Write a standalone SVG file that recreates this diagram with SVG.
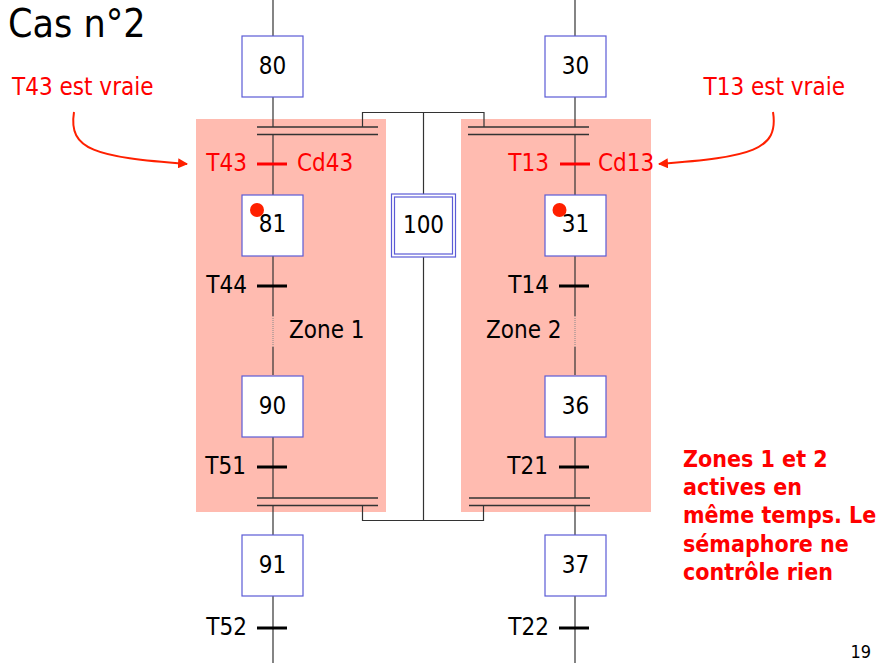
<svg xmlns="http://www.w3.org/2000/svg" width="887" height="663" viewBox="0 0 887 663">
<defs>
<style>
text{font-family:"DejaVu Sans Condensed","DejaVu Sans",sans-serif;font-size:24px;fill:#000}
.red{fill:#ff0000}
.zone{fill:#ffbbb0}
.step{fill:#fff;stroke:#5b5bd6;stroke-width:1.2}
.ln{stroke:#333;stroke-width:1.2;fill:none}
.bar{stroke:#333;stroke-width:1.5}
.tr{stroke:#000;stroke-width:3}
.trr{stroke:#ff0000;stroke-width:3}
.arr{stroke:#ff2000;stroke-width:2;fill:none}
.bold{font-weight:bold;fill:#ff0000}
</style>
<marker id="ah" viewBox="0 0 10 10" refX="9" refY="5" markerWidth="10" markerHeight="10" markerUnits="userSpaceOnUse" orient="auto">
<path d="M0,0 L10,5 L0,10 z" fill="#ff2000"/>
</marker>
</defs>
<rect width="887" height="663" fill="#fff"/>
<text x="8" y="37" style="font-size:39px">Cas n°2</text>

<g id="zones">
<rect class="zone" x="196" y="119" width="190" height="393"/>
<rect class="zone" x="461" y="119" width="190" height="393"/>
</g>

<g id="connectors">
<line class="ln" x1="273" y1="0" x2="273" y2="36"/>
<line class="ln" x1="273" y1="97" x2="273" y2="127"/>
<line class="ln" x1="273" y1="134" x2="273" y2="195"/>
<line class="ln" x1="273" y1="255" x2="273" y2="316"/>
<line x1="273" y1="316" x2="273" y2="347" stroke="#888" stroke-width="1" stroke-dasharray="1,1"/>
<line class="ln" x1="273" y1="347" x2="273" y2="375"/>
<line class="ln" x1="273" y1="437" x2="273" y2="498"/>
<line class="ln" x1="273" y1="505" x2="273" y2="535"/>
<line class="ln" x1="273" y1="596" x2="273" y2="663"/>
<line class="ln" x1="575" y1="0" x2="575" y2="36"/>
<line class="ln" x1="575" y1="97" x2="575" y2="127"/>
<line class="ln" x1="575" y1="134" x2="575" y2="195"/>
<line class="ln" x1="575" y1="255" x2="575" y2="316"/>
<line x1="575" y1="316" x2="575" y2="347" stroke="#888" stroke-width="1" stroke-dasharray="1,1"/>
<line class="ln" x1="575" y1="347" x2="575" y2="375"/>
<line class="ln" x1="575" y1="437" x2="575" y2="498"/>
<line class="ln" x1="575" y1="505" x2="575" y2="535"/>
<line class="ln" x1="575" y1="596" x2="575" y2="663"/>
<line class="bar" x1="257" y1="127" x2="378" y2="127"/>
<line class="bar" x1="257" y1="134.5" x2="378" y2="134.5"/>
<line class="bar" x1="468" y1="127" x2="589" y2="127"/>
<line class="bar" x1="468" y1="134.5" x2="589" y2="134.5"/>
<line class="bar" x1="257" y1="498" x2="378" y2="498"/>
<line class="bar" x1="257" y1="505.5" x2="378" y2="505.5"/>
<line class="bar" x1="469" y1="498" x2="590" y2="498"/>
<line class="bar" x1="469" y1="505.5" x2="590" y2="505.5"/>
<path class="ln" d="M362.5,127 V112.5 H484 V127"/>
<line class="ln" x1="423.5" y1="112.5" x2="423.5" y2="194"/>
<line class="ln" x1="423.5" y1="257" x2="423.5" y2="520.5"/>
<path class="ln" d="M362.5,505.5 V520.5 H483.5 V505.5"/>
<line class="trr" x1="257" y1="164" x2="287" y2="164"/>
<line class="trr" x1="560" y1="164" x2="590" y2="164"/>
<line class="tr" x1="257" y1="286" x2="287" y2="286"/>
<line class="tr" x1="559" y1="286" x2="589" y2="286"/>
<line class="tr" x1="257" y1="467" x2="287" y2="467"/>
<line class="tr" x1="559" y1="467" x2="589" y2="467"/>
<line class="tr" x1="257" y1="628" x2="287" y2="628"/>
<line class="tr" x1="559" y1="628" x2="589" y2="628"/>
<path class="arr" d="M74,112 C68,150 95,157 187,164" marker-end="url(#ah)"/>
<path class="arr" d="M773,112 C779,150 752,157 659,164" marker-end="url(#ah)"/>
</g>

<g id="step80"><rect class="step" x="242" y="36" width="61" height="61"/><text x="272.5" y="74" text-anchor="middle">80</text></g>
<g id="step81"><rect class="step" x="242" y="195" width="61" height="61"/><text x="272.5" y="232" text-anchor="middle">81</text><circle cx="257" cy="210" r="7" fill="#ff2000"/></g>
<g id="step90"><rect class="step" x="242" y="376" width="61" height="61"/><text x="272.5" y="414" text-anchor="middle">90</text></g>
<g id="step91"><rect class="step" x="242" y="535" width="61" height="61"/><text x="272.5" y="573" text-anchor="middle">91</text></g>
<g id="step30"><rect class="step" x="545" y="36" width="61" height="61"/><text x="575.5" y="74" text-anchor="middle">30</text></g>
<g id="step31"><rect class="step" x="545" y="195" width="61" height="61"/><text x="575.5" y="232" text-anchor="middle">31</text><circle cx="559.5" cy="210" r="7" fill="#ff2000"/></g>
<g id="step36"><rect class="step" x="545" y="376" width="61" height="61"/><text x="575.5" y="414" text-anchor="middle">36</text></g>
<g id="step37"><rect class="step" x="545" y="535" width="61" height="61"/><text x="575.5" y="573" text-anchor="middle">37</text></g>
<g id="step100">
<rect class="step" x="391.5" y="194" width="64" height="63"/>
<rect class="step" x="394.5" y="197" width="58" height="57"/>
<text x="423.5" y="233" text-anchor="middle">100</text>
</g>

<g id="labels">
<text class="red" x="12" y="95">T43 est vraie</text>
<text class="red" x="845" y="95" text-anchor="end">T13 est vraie</text>
<text class="red" x="247" y="171" text-anchor="end">T43</text>
<text class="red" x="297" y="171">Cd43</text>
<text class="red" x="549" y="171" text-anchor="end">T13</text>
<text class="red" x="598" y="171">Cd13</text>
<text x="247" y="293" text-anchor="end">T44</text>
<text x="549" y="293" text-anchor="end">T14</text>
<text x="289" y="338">Zone 1</text>
<text x="486" y="338">Zone 2</text>
<text x="246" y="474" text-anchor="end">T51</text>
<text x="548" y="474" text-anchor="end">T21</text>
<text x="247" y="635" text-anchor="end">T52</text>
<text x="549" y="635" text-anchor="end">T22</text>
<text class="bold" x="683" y="467" style="font-size:23px">Zones 1 et 2</text>
<text class="bold" x="683" y="495" style="font-size:23px">actives en</text>
<text class="bold" x="683" y="523" style="font-size:23px">même temps. Le</text>
<text class="bold" x="683" y="552" style="font-size:23px">sémaphore ne</text>
<text class="bold" x="683" y="580" style="font-size:23px">contrôle rien</text>
<text x="871" y="658" text-anchor="end" style="font-size:18px">19</text>
</g>
</svg>
